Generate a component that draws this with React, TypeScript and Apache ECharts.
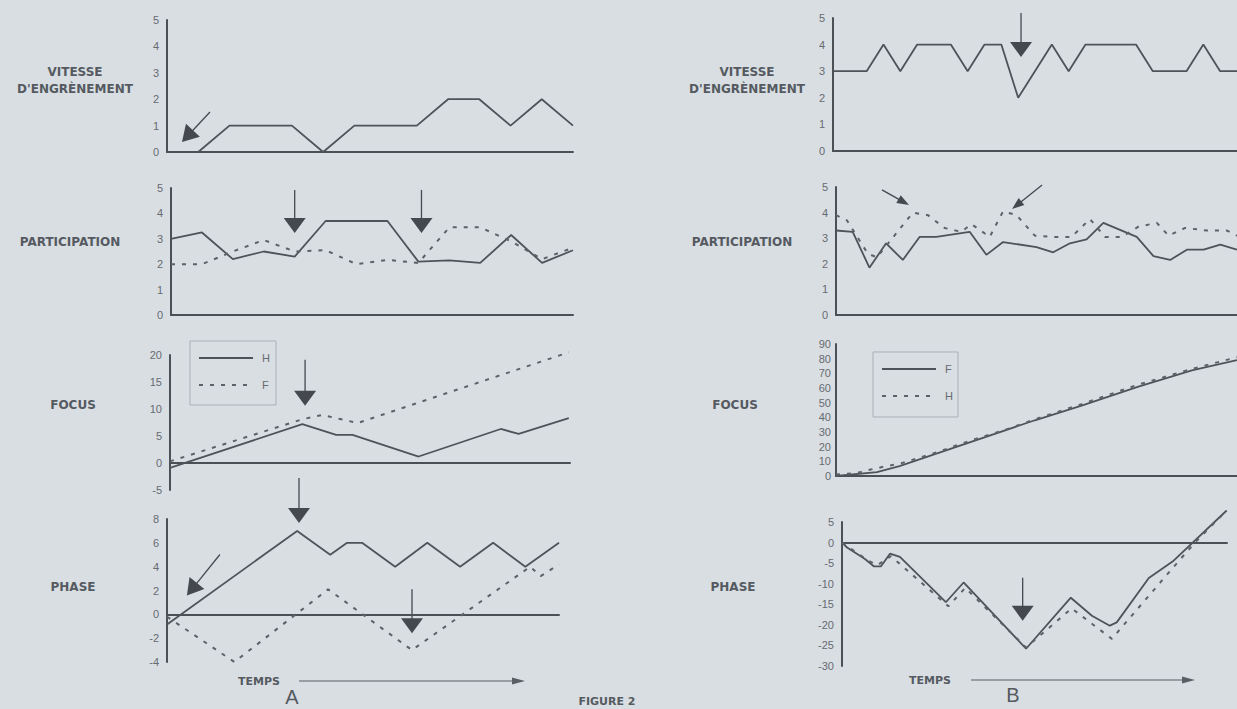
import React, { useEffect, useRef } from "react";
import * as echarts from "echarts";

// ---------- DATA (time units, values) ----------
// Panel A
const vitesseA_t = [1, 2, 4, 5, 6, 8, 9, 10, 11, 12, 13];
const vitesseA = [0, 1, 1, 0, 1, 1, 2, 2, 1, 2, 1];

const participationA_solid_t = [0, 1, 2, 3, 4, 5, 7, 8, 9, 10, 11, 12, 13];
const participationA_solid = [3.0, 3.25, 2.2, 2.5, 2.3, 3.7, 3.7, 2.1, 2.15, 2.05, 3.15, 2.05, 2.55];
const participationA_dashed_t = [0, 1, 2, 3, 4, 5, 6, 7, 8, 9, 10, 11, 12, 13];
const participationA_dashed = [2, 2, 2.5, 2.95, 2.5, 2.55, 2.0, 2.17, 2.05, 3.45, 3.45, 2.9, 2.2, 2.65];

const focusA_H_t = [0, 4.3, 5.4, 5.93, 8.08, 10.75, 11.33, 12.96];
const focusA_H = [-0.9, 7.2, 5.2, 5.2, 1.2, 6.3, 5.4, 8.3];
const focusA_F_t = [0, 4.3, 4.95, 6.1, 12.96];
const focusA_F = [0.3, 8.1, 8.9, 7.4, 20.5];

const phaseA_solid_t = [0, 4.25, 5.33, 5.88, 6.37, 7.45, 8.5, 9.57, 10.65, 11.7, 12.8];
const phaseA_solid = [-0.85, 7, 5, 6, 6, 4, 6, 4, 6, 4, 6];
const phaseA_dashed_t = [0, 2.2, 5.26, 8.0, 11.86, 12.2, 12.8];
const phaseA_dashed = [-0.2, -4, 2.1, -3, 4, 3.2, 4.2];

// Panel B
const vitesseB_t = [0, 2, 3, 4, 5, 7, 8, 9, 10, 11, 13, 14, 15, 18, 19, 21, 22, 23, 24];
const vitesseB = [3, 3, 4, 3, 4, 4, 3, 4, 4, 2, 4, 3, 4, 4, 3, 3, 4, 3, 3];

const participationB_solid_t = [0, 1, 2, 3, 4, 5, 6, 8, 9, 10, 12, 13, 14, 15, 16, 18, 19, 20, 21, 22, 23, 24];
const participationB_solid = [3.3, 3.25, 1.85, 2.8, 2.15, 3.05, 3.05, 3.25, 2.35, 2.85, 2.65, 2.45, 2.8, 2.95, 3.6, 3.05, 2.3, 2.15, 2.55, 2.55, 2.75, 2.55];
const participationB_dashed_t = [0, 0.65, 1.9, 2.45, 4.6, 5.5, 6.5, 7.5, 8.1, 9.2, 10, 10.8, 11.9, 13, 14.1, 15.2, 16.1, 17.1, 18.1, 19.2, 19.9, 20.9, 22.2, 23.4, 24];
const participationB_dashed = [3.9, 3.7, 2.4, 2.25, 4.0, 3.9, 3.4, 3.25, 3.55, 3.05, 4.05, 3.9, 3.1, 3.05, 3.05, 3.75, 3.05, 3.05, 3.45, 3.6, 3.1, 3.4, 3.3, 3.3, 3.1];

const focusB_F_t = [0, 2.45, 3.8, 11.9, 14.7, 18.1, 21.3, 24];
const focusB_F = [0, 2.7, 6.8, 38, 48, 61, 72, 79];
const focusB_H_t = [0, 1.2, 2.3, 4, 6, 8, 10, 12, 14.7, 18, 21.3, 24];
const focusB_H = [1, 2, 5, 9, 16, 24, 31, 39, 49, 62, 73, 81];

const phaseB_solid_t = [0, 0.3, 1.36, 1.9, 2.3, 2.84, 3.43, 6.15, 7.2, 10.9, 13.55, 14.8, 15.86, 16.27, 18.17, 19.64, 22.78];
const phaseB_solid = [0, -1.2, -4, -5.8, -5.8, -2.7, -3.5, -14.5, -9.7, -25.8, -13.4, -17.8, -20.2, -19.4, -8.6, -4.4, 7.8];
const phaseB_dashed_t = [0, 1.6, 2.1, 2.9, 6.3, 7.3, 10.9, 13.6, 15.98, 19.6, 20.9, 22.78];
const phaseB_dashed = [0, -4.5, -5.5, -3.3, -15.5, -11, -25.5, -16, -23.4, -6.1, 0, 7.8];

// Axis scales per panel
const yMins = [0, 0, -5, -4, 0, 0, 0, -30];
const yMaxs = [5, 5, 20, 8, 5, 5, 90, 5];
const yIntervals = [1, 1, 5, 2, 1, 1, 10, 5];
const xMaxs = [13, 13, 13, 12.8, 24, 24, 24, 22.8];

// Row labels
const rowLabelsA = [["VITESSE", "D'ENGRÈNEMENT"], ["PARTICIPATION"], ["FOCUS"], ["PHASE"]];
const rowLabelsB = [["VITESSE", "D'ENGRÈNEMENT"], ["PARTICIPATION"], ["FOCUS"], ["PHASE"]];

// Arrow annotations: tip in data coords of a panel, tail as pixel offset
const arrows = [
  { g: 0, x: 0.48, y: 0.38, dx: 28, dy: -30, len: 16, w: 19 },
  { g: 1, x: 4.0, y: 3.23, dx: 0, dy: -43, len: 15, w: 22 },
  { g: 1, x: 8.1, y: 3.23, dx: 0, dy: -43, len: 15, w: 22 },
  { g: 2, x: 4.39, y: 10.6, dx: 0, dy: -46, len: 15, w: 22 },
  { g: 3, x: 4.31, y: 7.67, dx: 0, dy: -45, len: 15, w: 22 },
  { g: 3, x: 8.0, y: -1.58, dx: 0, dy: -44, len: 15, w: 22 },
  { g: 3, x: 0.65, y: 1.58, dx: 33, dy: -41, len: 16, w: 19 },
  { g: 4, x: 11.17, y: 3.53, dx: 0, dy: -44, len: 15, w: 22 },
  { g: 5, x: 4.37, y: 4.3, dx: -27, dy: -15, len: 12, w: 9 },
  { g: 5, x: 10.54, y: 4.14, dx: 30, dy: -24, len: 12, w: 9 },
  { g: 7, x: 10.7, y: -19.0, dx: 0, dy: -43, len: 15, w: 22 },
];

// ---------- STYLE / LAYOUT ----------
const BG = "#d9dee3";
const AXIS = "#4b5056";
const LINE = "#4e5359";
const DASH = "#5d6268";
const LABEL = "#555a61";
const TICK = "#666b71";

const grids = [
  { left: 167, top: 20, width: 406, height: 132 },
  { left: 171, top: 188, width: 402, height: 127 },
  { left: 170, top: 355, width: 400, height: 135 },
  { left: 167, top: 519, width: 392, height: 143 },
  { left: 833, top: 18, width: 404, height: 133 },
  { left: 836, top: 187, width: 401, height: 128 },
  { left: 836, top: 344, width: 401, height: 132 },
  { left: 842, top: 522, width: 385, height: 144 },
];

const rowLabelY = [[72, 89], [242], [405], [587]];
const rowLabelXA = [75, 70, 73, 73];
const rowLabelXB = [747, 742, 735, 733];

function pairs(t: number[], v: number[]) {
  return t.map((x, i) => [x, v[i]]);
}

function lineSeries(idx: number, t: number[], v: number[], dashed: boolean, name: string) {
  return {
    type: "line",
    name,
    xAxisIndex: idx,
    yAxisIndex: idx,
    data: pairs(t, v),
    symbol: "none",
    clip: false,
    silent: true,
    lineStyle: dashed
      ? { color: DASH, width: 2, type: [4, 7] }
      : { color: LINE, width: 1.8, type: "solid" },
  };
}

function buildOption() {
  const xAxis = grids.map((_, i) => ({
    type: "value",
    gridIndex: i,
    min: 0,
    max: xMaxs[i],
    axisLine: { show: true, onZero: true, lineStyle: { color: AXIS, width: 2 } },
    axisTick: { show: false },
    axisLabel: { show: false },
    splitLine: { show: false },
  }));
  const yAxis = grids.map((_, i) => ({
    type: "value",
    gridIndex: i,
    min: yMins[i],
    max: yMaxs[i],
    interval: yIntervals[i],
    axisLine: { show: true, onZero: false, lineStyle: { color: AXIS, width: 2 } },
    axisTick: { show: false },
    axisLabel: {
      color: TICK,
      fontSize: 11,
      fontFamily: "Liberation Sans, Arial, sans-serif",
      margin: i === 6 ? 5 : 8,
    },
    splitLine: { show: false },
  }));
  const series = [
    lineSeries(0, vitesseA_t, vitesseA, false, "Vitesse A"),
    lineSeries(1, participationA_solid_t, participationA_solid, false, "Participation A H"),
    lineSeries(1, participationA_dashed_t, participationA_dashed, true, "Participation A F"),
    lineSeries(2, focusA_H_t, focusA_H, false, "H"),
    lineSeries(2, focusA_F_t, focusA_F, true, "F"),
    lineSeries(3, phaseA_solid_t, phaseA_solid, false, "Phase A H"),
    lineSeries(3, phaseA_dashed_t, phaseA_dashed, true, "Phase A F"),
    lineSeries(4, vitesseB_t, vitesseB, false, "Vitesse B"),
    lineSeries(5, participationB_solid_t, participationB_solid, false, "Participation B F"),
    lineSeries(5, participationB_dashed_t, participationB_dashed, true, "Participation B H"),
    lineSeries(6, focusB_F_t, focusB_F, false, "F (B)"),
    lineSeries(6, focusB_H_t, focusB_H, true, "H (B)"),
    lineSeries(7, phaseB_solid_t, phaseB_solid, false, "Phase B F"),
    lineSeries(7, phaseB_dashed_t, phaseB_dashed, true, "Phase B H"),
  ];
  return {
    animation: false,
    backgroundColor: BG,
    grid: grids.map((g) => ({ ...g, containLabel: false })),
    xAxis,
    yAxis,
    series,
  };
}

function txt(x: number, y: number, text: string, font: string, fill: string, align = "center") {
  return {
    type: "text",
    x,
    y,
    silent: true,
    style: {
      text,
      font,
      fill,
      textAlign: align,
      textVerticalAlign: "middle",
      align,
      verticalAlign: "middle",
    },
  };
}

function seg(x1: number, y1: number, x2: number, y2: number, stroke: string, lineWidth: number, dash?: number[]) {
  return {
    type: "line",
    silent: true,
    shape: { x1, y1, x2, y2 },
    style: { stroke, lineWidth, lineDash: dash || null },
  };
}

function arrowShape(tx: number, ty: number, fx: number, fy: number, len: number, w: number, color: string, lw: number) {
  const dx = tx - fx;
  const dy = ty - fy;
  const L = Math.sqrt(dx * dx + dy * dy) || 1;
  const ux = dx / L;
  const uy = dy / L;
  const bx = tx - ux * len;
  const by = ty - uy * len;
  const px = -uy * (w / 2);
  const py = ux * (w / 2);
  return [
    seg(fx, fy, bx + ux * 2, by + uy * 2, color, lw),
    {
      type: "polygon",
      silent: true,
      shape: { points: [[tx, ty], [bx + px, by + py], [bx - px, by - py]] },
      style: { fill: color },
    },
  ];
}

function legendBox(x: number, y: number, w: number, h: number, first: string, second: string) {
  return [
    { type: "rect", silent: true, shape: { x, y, width: w, height: h }, style: { fill: "none", stroke: "#a9afb5", lineWidth: 1 } },
    seg(x + 9, y + 17, x + 63, y + 17, LINE, 1.8),
    txt(x + 72, y + 17, first, "11px Liberation Sans, Arial, sans-serif", TICK, "left"),
    seg(x + 9, y + 44, x + 63, y + 44, DASH, 2, [4, 7]),
    txt(x + 72, y + 44, second, "11px Liberation Sans, Arial, sans-serif", TICK, "left"),
  ];
}

export default function App() {
  const ref = useRef<HTMLDivElement>(null);
  useEffect(() => {
    if (!ref.current) return;
    const chart = echarts.init(ref.current, null, { renderer: "svg" });
    chart.setOption(buildOption() as any);

    const graphic: any[] = [];
    const labelFont = "bold 12px DejaVu Sans, Liberation Sans, sans-serif";
    rowLabelsA.forEach((lines, r) => {
      lines.forEach((t, k) => graphic.push(txt(rowLabelXA[r], rowLabelY[r][k], t, labelFont, LABEL)));
    });
    rowLabelsB.forEach((lines, r) => {
      lines.forEach((t, k) => graphic.push(txt(rowLabelXB[r], rowLabelY[r][k], t, labelFont, LABEL)));
    });

    arrows.forEach((a) => {
      const p = chart.convertToPixel({ gridIndex: a.g } as any, [a.x, a.y]) as number[];
      const tx = p[0];
      const ty = p[1];
      graphic.push(...arrowShape(tx, ty, tx + a.dx, ty + a.dy, a.len, a.w, "#45494f", 1.3));
    });

    // legends
    graphic.push(...legendBox(190, 341, 86, 64, "H", "F"));
    graphic.push(...legendBox(873, 352, 85, 65, "F", "H"));

    // TEMPS time arrows
    graphic.push(txt(259, 681, "TEMPS", "bold 11px DejaVu Sans, Liberation Sans, sans-serif", LABEL));
    graphic.push(...arrowShape(525, 681, 299, 681, 13, 7, "#5a5f65", 1));
    graphic.push(txt(930, 680, "TEMPS", "bold 11px DejaVu Sans, Liberation Sans, sans-serif", LABEL));
    graphic.push(...arrowShape(1195, 680, 971, 680, 13, 7, "#5a5f65", 1));

    // panel letters and figure caption
    graphic.push(txt(292, 697, "A", "20px Liberation Sans, Arial, sans-serif", "#555a60"));
    graphic.push(txt(1013, 695, "B", "20px Liberation Sans, Arial, sans-serif", "#555a60"));
    graphic.push(txt(607, 701, "FIGURE 2", "bold 11px DejaVu Sans, Liberation Sans, sans-serif", "#555a60"));

    chart.setOption({ graphic } as any);
    return () => chart.dispose();
  }, []);
  return (
    <div
      ref={ref}
      style={{ position: "fixed", left: 0, top: 0, width: 1237, height: 709, background: BG }}
    />
  );
}
